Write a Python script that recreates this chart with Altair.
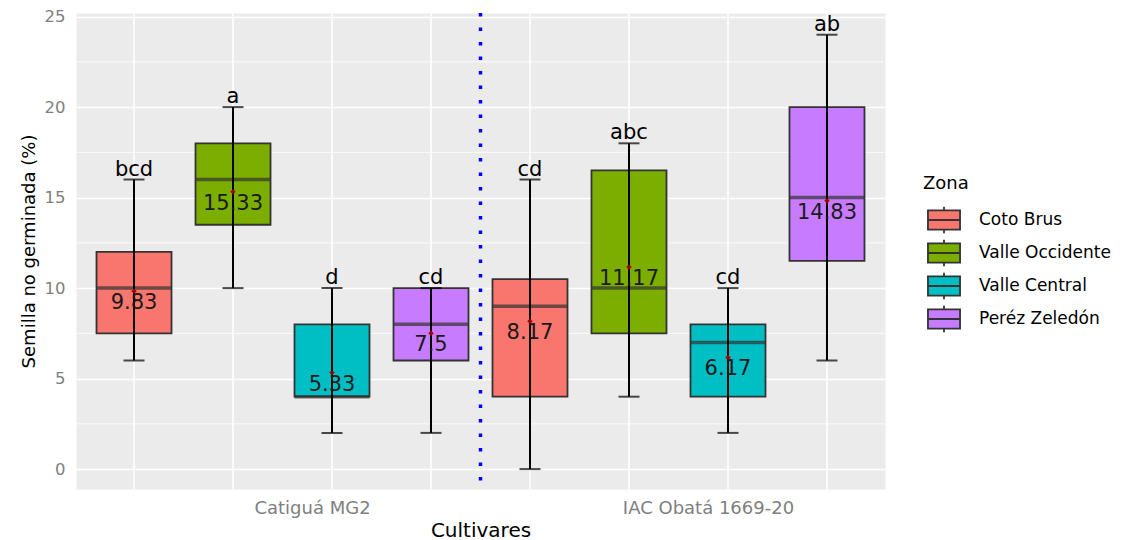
import altair as alt
import pandas as pd

# ---------------- data ----------------
cultivar_order = ["Catiguá MG2", "IAC Obatá 1669-20"]
zona_order = ["Coto Brus", "Valle Occidente", "Valle Central", "Peréz Zeledón"]
zona_colors = ["#F8766D", "#7CAE00", "#00BFC4", "#C77CFF"]

cultivar = ["Catiguá MG2"] * 4 + ["IAC Obatá 1669-20"] * 4
zona = zona_order * 2
whisker_low = [6, 10, 2, 2, 0, 4, 2, 6]
q1 = [7.5, 13.5, 4, 6, 4, 7.5, 4, 11.5]
median = [10, 16, 4, 8, 9, 10, 7, 15]
q3 = [12, 18, 8, 10, 10.5, 16.5, 8, 20]
whisker_high = [16, 20, 10, 10, 16, 18, 10, 24]
mean = [9.83, 15.33, 5.33, 7.5, 8.17, 11.17, 6.17, 14.83]
letters = ["bcd", "a", "d", "cd", "cd", "abc", "cd", "ab"]

y_major = [0, 5, 10, 15, 20, 25]
y_minor = [2.5, 7.5, 12.5, 17.5, 22.5]
separator = ["IAC Obatá 1669-20"]

df = pd.DataFrame({
    "cultivar": cultivar,
    "zona": zona,
    "whisker_low": whisker_low,
    "q1": q1,
    "median": median,
    "q3": q3,
    "whisker_high": whisker_high,
    "mean": mean,
    "mean_label": [str(m) for m in mean],
    "letter": letters,
})
minor_df = pd.DataFrame({"v": y_minor})
sep_df = pd.DataFrame({"cultivar": separator})

# ---------------- styling ----------------
FONT = "DejaVu Sans"
W, H = 809, 476
YT = "Semilla no germinada (%)"

yscale = alt.Scale(domain=[-1.1, 25.2], nice=False, zero=False)
yaxis = alt.Axis(values=y_major, grid=True, gridColor="white", gridWidth=1.6,
                 ticks=False, domain=False, labelFont=FONT, labelFontSize=16.5,
                 labelColor="#7f7f7f", labelPadding=11, titleFont=FONT,
                 titleFontSize=18, titleFontWeight="normal", titleColor="black",
                 titlePadding=6)
xscale = alt.Scale(domain=cultivar_order, paddingInner=0, paddingOuter=0.0215)
xaxis = alt.Axis(grid=False, ticks=False, domain=False, labelAngle=0, labelOffset=30,
                 labelFont=FONT, labelFontSize=18, labelColor="#7f7f7f",
                 labelPadding=10, titleFont=FONT, titleFontSize=20,
                 titleFontWeight="normal", titleColor="black", titlePadding=3)


def X(**kw):
    return alt.X("cultivar:N", scale=xscale, axis=xaxis, title="Cultivares", **kw)


def XO():
    return alt.XOffset("zona:N", sort=zona_order,
                       scale=alt.Scale(domain=zona_order, paddingInner=0.2424,
                                       paddingOuter=0.1212))


def Y(f):
    return alt.Y(f"{f}:Q", scale=yscale, axis=yaxis, title=YT)


legend_path = ("M-1.07,-0.64H1.07V0.64H-1.07Z M-1.07,0H1.07 "
               "M0,-0.64V-0.88 M0,0.64V0.88")

vgrid = alt.Chart(df).mark_rule(color="white", strokeWidth=1.6).encode(x=X(), xOffset=XO())
hminor = alt.Chart(minor_df).mark_rule(color="white", strokeWidth=0.8).encode(y=Y("v"))
sep = alt.Chart(sep_df).mark_rule(color="#0000FF", strokeWidth=3.5,
                                  strokeDash=[3.5, 11]).encode(x=X(bandPosition=0))

box = alt.Chart(df).mark_bar(stroke="#333333", strokeWidth=1.8).encode(
    x=X(), xOffset=XO(), y=Y("q1"), y2="q3",
    fill=alt.Fill("zona:N", sort=zona_order,
                  scale=alt.Scale(domain=zona_order, range=zona_colors),
                  legend=alt.Legend(title="Zona", orient="none", legendX=847, legendY=162,
                                    symbolType=legend_path, symbolSize=900,
                                    symbolStrokeColor="#333333", symbolStrokeWidth=1.8,
                                    symbolOffset=5, labelOffset=19, rowPadding=-2,
                                    padding=0, titlePadding=11,
                                    labelFont=FONT, labelFontSize=17, labelColor="black",
                                    titleFont=FONT, titleFontSize=18,
                                    titleFontWeight="normal", titleColor="black")),
)
med = alt.Chart(df).mark_tick(orient="horizontal", size=75, thickness=3.5,
                              color="#333333").encode(x=X(), xOffset=XO(), y=Y("median"))
whisk = alt.Chart(df).mark_rule(color="black", strokeWidth=2).encode(
    x=X(), xOffset=XO(), y=Y("whisker_low"), y2="whisker_high")
cap_lo = alt.Chart(df).mark_tick(orient="horizontal", size=21, thickness=2,
                                 color="black").encode(x=X(), xOffset=XO(), y=Y("whisker_low"))
cap_hi = alt.Chart(df).mark_tick(orient="horizontal", size=21, thickness=2,
                                 color="black").encode(x=X(), xOffset=XO(), y=Y("whisker_high"))
mpt = alt.Chart(df).mark_point(shape="diamond", filled=True, size=30, opacity=1,
                               color="#A00000").encode(x=X(), xOffset=XO(), y=Y("mean"))
let_txt = alt.Chart(df).mark_text(font=FONT, fontSize=21, baseline="alphabetic", dy=-4,
                                  color="black").encode(
    x=X(), xOffset=XO(), y=Y("whisker_high"), text="letter:N")
mean_txt = alt.Chart(df).mark_text(font=FONT, fontSize=21, baseline="alphabetic", dy=18,
                                   color="#1a1a1a").encode(
    x=X(), xOffset=XO(), y=Y("mean"), text="mean_label:N")

chart = alt.layer(vgrid, hminor, sep, box, med, whisk, cap_lo, cap_hi, mpt,
                  let_txt, mean_txt).properties(
    width=W, height=H,
    padding={"left": 12, "top": 0, "right": 0, "bottom": 0},
).configure(font=FONT).configure_view(fill="#EBEBEB", stroke="transparent")

chart.save("out.html", embed_options={"renderer": "svg", "actions": False})
